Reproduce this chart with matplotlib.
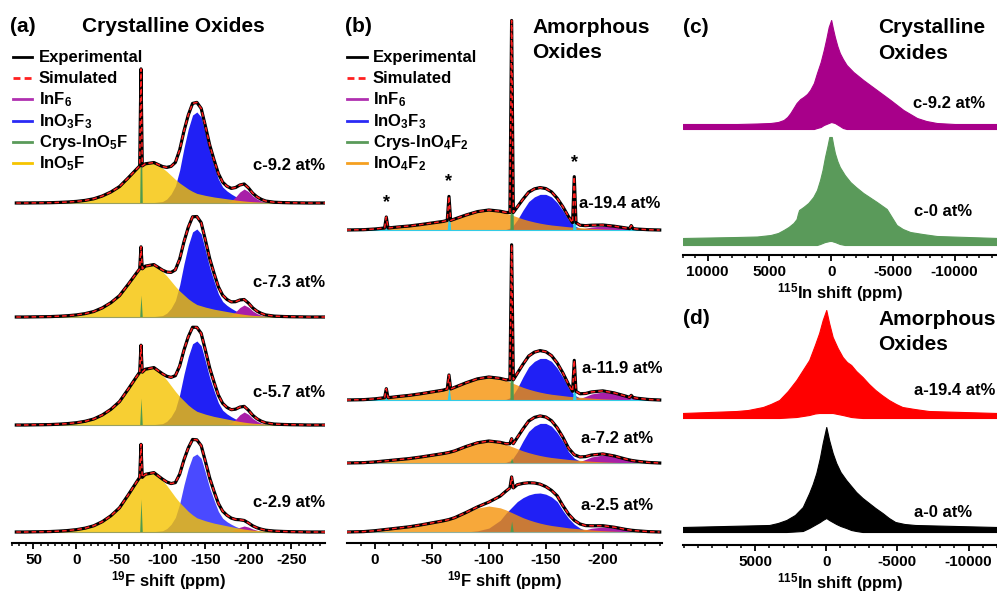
import numpy as np
import matplotlib
matplotlib.use('Agg')
import matplotlib.pyplot as plt
from matplotlib.lines import Line2D

plt.rcParams['font.family'] = ['Liberation Sans', 'DejaVu Sans']
plt.rcParams['font.weight'] = 'bold'
plt.rcParams['mathtext.fontset'] = 'custom'
plt.rcParams['mathtext.rm'] = 'Liberation Sans:bold'
plt.rcParams['mathtext.it'] = 'Liberation Sans:bold'
plt.rcParams['mathtext.bf'] = 'Liberation Sans:bold'
plt.rcParams['axes.unicode_minus'] = False

# ---- (a) 19F, crystalline oxides: component shapes (peak = 1) ----
A_PPM = [70, 60, 50, 40, 30, 20, 10, 0, -10, -20, -30, -40, -50, -60, -70, -75, -80, -90, -100,
         -105, -110, -115, -120, -125, -130, -135, -140, -145, -150, -155, -160, -165, -170,
         -175, -180, -185, -190, -195, -200, -205, -210, -215, -220,
         -230, -240, -250, -260, -270, -280, -290]
A_INO5F = [0, 0, .003, .005, .008, .015, .025, .04, .065, .105, .175, .275, .41, .625, .85, .925, .975, 1.0, .875,
           .79, .69, .59, .5, .425, .35, .29, .24, .215, .19, .17, .15, .135, .12,
           .105, .09, .075, .062, .05, .04, .032, .027, .022, .018,
           .012, .008, .005, .003, 0, 0, 0]
A_INO3F3 = [0, 0, 0, 0, 0, 0, 0, 0, 0, 0, 0, 0, 0, 0, 0, .001, .002, .005, .016,
            .044, .099, .187, .363, .604, .813, .967, 1.0, .945, .758, .56, .407, .264, .176,
            .132, .099, .071, .049, .033, .022, .016, .011, .008, .005,
            .003, .001, 0, 0, 0, 0, 0]
A_INF6 = [0, 0, 0, 0, 0, 0, 0, 0, 0, 0, 0, 0, 0, 0, 0, 0, 0, 0, 0,
          0, 0, 0, 0, 0, 0, 0, 0, 0, 0, 0, 0, 0, 0,
          .036, .143, .43, .79, 1.0, .82, .5, .286, .143, .057,
          0, 0, 0, 0, 0, 0, 0]
A_CRYS_PPM = -75
A_LABELS = ['c-9.2 at%', 'c-7.3 at%', 'c-5.7 at%', 'c-2.9 at%']
A_H_INO5F = [40, 52, 57, 59]
A_H_INO3F3 = [91, 88, 84, 78]
A_H_INF6 = [14, 12, 13, 6]
A_H_CRYS = [97, 22, 27, 33]

# ---- (b) 19F, amorphous oxides ----
B_PPM = [25, 20, 10, 0, -10, -20, -30, -40, -50, -60, -65, -70, -80, -90, -100, -110,
         -115, -120, -125, -130, -135, -140, -145, -150, -155, -160, -165, -170, -175, -180, -185, -190,
         -200, -210, -220, -225, -230, -240, -250]
B_INO4F2 = [0, .005, .015, .05, .1, .15, .2, .27, .35, .43, .48, .55, .75, .92, 1.0, .93,
            .85, .75, .65, .55, .47, .4, .34, .29, .25, .22, .19, .16, .14, .12, .1, .08,
            .05, .03, .015, .011, .008, .003, 0]
B_INO3F3 = [0, 0, 0, 0, 0, 0, 0, 0, 0, 0, 0, 0, 0, 0, 0, .005,
            .015, .07, .28, .55, .79, .92, .99, .99, .92, .76, .54, .28, .12, .045, .015, .005,
            0, 0, 0, 0, 0, 0, 0]
B_INO3F3_BROAD = [0, 0, 0, 0, 0, 0, 0, 0, 0, 0, 0, 0, 0, .03, .1, .3,
                  .48, .63, .78, .88, .95, .99, 1.0, .97, .9, .78, .55, .35, .2, .1, .04, .01,
                  0, 0, 0, 0, 0, 0, 0]
B_INF6 = [0, 0, 0, 0, 0, 0, 0, 0, 0, 0, 0, 0, 0, 0, 0, 0,
          0, 0, 0, 0, 0, 0, 0, 0, 0, 0, 0, 0, .05, .2, .45, .75,
          1.0, .8, .45, .3, .2, .06, 0]
B_CRYS_PPM = -120
B_SSB_PPM = [-10, -65, -175, -225]
B_LABELS = ['a-19.4 at%', 'a-11.9 at%', 'a-7.2 at%', 'a-2.5 at%']
B_H_INO4F2 = [20, 23, 22, 26]
B_H_INO3F3 = [36, 42, 40, 39]
B_H_INF6 = [4, 8, 8, 5]
B_H_CRYS = [192, 135, 5, 11]
B_H_SSB = [[11, 24, 46, 3], [9, 14, 31, 2], [0, 0, 0, 0], [0, 0, 0, 0]]

# ---- (c) 115In, crystalline: envelope of the sideband manifold ----
C_C92_PPM = [12000, 7600, 6000, 4900, 4300, 3850, 3550, 3300, 3050, 2800, 2500, 2250, 1950, 1700,
             1400, 1150, 850, 600, 400, 200, 0, -150, -300, -500, -700, -950, -1250, -1800,
             -2600, -3700, -4800, -5850, -6950, -7700, -8550, -10000, -13500]
C_C92_TOP = [3, 3, 3.5, 4, 5, 7, 10, 14, 19, 24, 28, 30, 33, 37,
             44, 54, 65, 77, 88, 100, 107, 98, 90, 81, 74, 68, 62, 55,
             47, 37, 27, 17, 9, 6, 4, 3, 3]
C_C92_BOT = [-2, -2, -2, -2, -2, -2, -2, -2, -2, -2, -2, -2, -2, -2,
             -2, -1, 0, 2, 3, 4, 5, 4.5, 4, 2.5, 1, -1, -2, -2,
             -2, -2, -2, -2, -2, -2, -2, -2, -2]
C_C0_PPM = [12000, 7600, 6000, 4900, 4300, 3850, 3450, 3050, 2800, 2700, 2600, 2250, 1850, 1450,
            1150, 900, 700, 500, 300, 150, -50, -150, -300, -500, -700, -1100, -1550, -2000,
            -2600, -3700, -4500, -4700, -5000, -5300, -5800, -6400, -7400, -8550, -13500]
C_C0_TOP = [4, 5, 5.5, 7, 9, 12, 15, 19, 23, 28, 32, 35, 39, 45,
            52, 62, 72, 85, 96, 105, 105, 98, 89, 81, 75, 67, 60, 55,
            49, 40, 33, 29, 23, 17, 13, 10, 8, 6, 4]
C_C0_BOT = [-3, -3, -3, -3, -3, -3, -3, -3, -3, -3, -3, -3, -3, -3,
            -3, -2, -1, 0, 0.5, 1, 1, 0.5, 0, -1, -2, -3, -3, -3,
            -3, -3, -3, -3, -3, -3, -3, -3, -3, -3, -3]

# ---- (d) 115In, amorphous ----
D_A194_PPM = [10100, 6300, 5500, 4450, 3900, 3300, 2700, 2100, 1650, 1200, 800, 500, 250, 0,
              -200, -450, -800, -1150, -1450, -1750, -2100, -2550, -3000, -3450, -3900,
              -4400, -4900, -5350, -6200, -7200, -12000]
D_A194_TOP = [2, 4, 5, 8, 11, 15, 24, 35, 45, 55, 70, 82, 95, 105,
              92, 78, 67, 58, 53, 50, 44, 38, 31, 25, 20,
              15, 11, 8, 6, 4, 2]
D_A194_BOT = [-3, -3, -3, -3, -3, -3, -2.5, -2, -1, 0, 1.5, 2, 2, 2,
              2, 2, 1, 0, -1, -2, -2.5, -3, -3, -3, -3,
              -3, -3, -3, -3, -3, -3]
D_A0_PPM = [10100, 4000, 3400, 2800, 2200, 1650, 1200, 950, 700, 450, 250, 0, -200, -450, -700,
            -1000, -1400, -1750, -2100, -2550, -3000, -3450, -3950, -4400, -4850, -5500,
            -6250, -12000]
D_A0_TOP = [3, 5, 7, 10, 15, 23, 37, 46, 57, 72, 87, 103, 90, 77, 67,
            58, 50, 44, 38, 32, 27, 22, 17, 12, 8, 6,
            5, 3]
D_A0_BOT = [-2, -2, -2, -2, -1.5, -1, 2, 4, 6, 8, 10, 12, 10, 8, 6,
            4, 2, 0, -1, -2, -2, -2, -2, -2, -2, -2,
            -2, -2]

BLUE = '#2020f5'
YELLOW = '#f6c400'
ORANGE = '#f59208'
MAGENTA = '#a81fa8'
GREEN = '#4f9a4f'
CYAN = '#33cce6'

W, H = 997, 593
fig = plt.figure(figsize=(W / 100, H / 100), dpi=100)


def axes_px(x0, x1, y0, y1):
    return fig.add_axes([x0 / W, 1 - y1 / H, (x1 - x0) / W, (y1 - y0) / H])


def ftext(x, y, s, size=12, ha='left'):
    fig.text(x / W, 1 - y / H, s, fontsize=size, ha=ha, va='baseline', fontweight='bold')


def fline(x0, x1, y, color, ls='-'):
    fig.add_artist(Line2D([x0 / W, x1 / W], [1 - y / H, 1 - y / H], color=color, lw=2, ls=ls))


def style(ax, xlim, ylim, majors, minors, xlabel):
    ax.set_xlim(*xlim)
    ax.set_ylim(*ylim)
    for s in ['left', 'right', 'top']:
        ax.spines[s].set_visible(False)
    ax.spines['bottom'].set_linewidth(1.5)
    ax.set_yticks([])
    ax.set_xticks(majors)
    ax.set_xticks(minors, minor=True)
    ax.tick_params(axis='x', which='major', direction='out', length=4, width=1.3, labelsize=11, pad=3)
    ax.tick_params(axis='x', which='minor', direction='out', length=2.5, width=1.1)
    ax.set_xlabel(xlabel, fontsize=12, fontweight='bold', labelpad=2)
    ax.patch.set_alpha(0)


def spiked(x, y, pos, amp, w):
    xs, ys = [], []
    for xi, yi in zip(x, y):
        if xi in pos and amp[pos.index(xi)] > 0:
            h = amp[pos.index(xi)]
            xs += [xi + w, xi, xi - w]
            ys += [yi, yi + h, yi]
        else:
            xs.append(xi)
            ys.append(yi)
    return np.array(xs, float), np.array(ys, float)


def spike_fill(ax, p, h, b, w, color):
    if h > 0:
        ax.fill_between([p + w, p, p - w], b, [b, b + h, b], color=color, lw=0)


# ---------------- panel (a) ----------------
axa = axes_px(12, 325, 0, 543)
A_BASE = [340, 226, 118, 11]
xa = np.array(A_PPM, float)
for i in range(4):
    b = A_BASE[i]
    yel = np.array(A_INO5F) * A_H_INO5F[i]
    blu = np.array(A_INO3F3) * A_H_INO3F3[i]
    mag = np.array(A_INF6) * A_H_INF6[i]
    axa.fill_between(xa, b, b + blu, color=BLUE if i < 3 else '#4a4aff', lw=0)
    axa.fill_between(xa, b, b + mag, color=MAGENTA, lw=0)
    axa.fill_between(xa, b, b + yel, color=YELLOW, alpha=0.8, lw=0)
    spike_fill(axa, A_CRYS_PPM, A_H_CRYS[i], b, 1.5, GREEN)
    axa.plot(xa, np.full_like(xa, b), color='#9aa060', lw=0.8)
    ex, ey = spiked(A_PPM, yel + blu + mag, [A_CRYS_PPM], [A_H_CRYS[i]], 1.5)
    axa.plot(ex, b + ey, color='black', lw=2.3)
    axa.plot(ex, b + ey, color='#ff2020', lw=1.1, ls=(0, (3, 2)))
style(axa, (74, -289), (0, 543), np.arange(50, -251, -50),
      np.arange(50 + 50 / 6 * 3, -289, -50 / 6), r'$^{19}$F shift (ppm)')

# ---------------- panel (b) ----------------
axb = axes_px(347, 662, 0, 543)
B_BASE = [313, 143, 80, 11]
xb = np.array(B_PPM, float)
blue_shapes = [B_INO3F3, B_INO3F3, B_INO3F3, B_INO3F3_BROAD]
for i in range(4):
    b = B_BASE[i]
    ora = np.array(B_INO4F2) * B_H_INO4F2[i]
    blu = np.array(blue_shapes[i]) * B_H_INO3F3[i]
    mag = np.array(B_INF6) * B_H_INF6[i]
    axb.fill_between(xb, b, b + blu, color=BLUE, lw=0)
    axb.fill_between(xb, b, b + mag, color=MAGENTA, lw=0)
    axb.fill_between(xb, b, b + ora, color=ORANGE, alpha=0.8, lw=0)
    spike_fill(axb, B_CRYS_PPM, B_H_CRYS[i], b, 1.5, GREEN)
    for p, h in zip(B_SSB_PPM, B_H_SSB[i]):
        spike_fill(axb, p, h, b, 1.5, CYAN)
    axb.plot(xb, np.full_like(xb, b), color=CYAN if i < 2 else '#8fb0a0', lw=0.8)
    ex, ey = spiked(B_PPM, ora + blu + mag, [B_CRYS_PPM] + B_SSB_PPM,
                    [B_H_CRYS[i]] + B_H_SSB[i], 1.5)
    axb.plot(ex, b + ey, color='black', lw=2.3)
    axb.plot(ex, b + ey, color='#ff2020', lw=1.1, ls=(0, (3, 2)))
# asterisks above spinning sidebands of the top trace
tot0 = (np.array(B_INO4F2) * B_H_INO4F2[0] + np.array(B_INO3F3) * B_H_INO3F3[0]
        + np.array(B_INF6) * B_H_INF6[0])
for p, h in zip(B_SSB_PPM[:3], B_H_SSB[0][:3]):
    yb = tot0[B_PPM.index(p)] + h + B_BASE[0]
    axb.text(p, yb + 6, '*', ha='center', va='bottom', fontsize=13, fontweight='bold')
style(axb, (24.5, -252), (0, 543), np.arange(0, -201, -50),
      np.arange(12.5, -251, -12.5), r'$^{19}$F shift (ppm)')

# ---------------- panel (c) ----------------
axc = axes_px(683, 997, 0, 255)
axc.fill_between(C_C92_PPM, 128 + np.array(C_C92_BOT), 128 + np.array(C_C92_TOP),
                 color='#a8008a', lw=0.8)
axc.fill_between(C_C0_PPM, 13 + np.array(C_C0_BOT), 13 + np.array(C_C0_TOP),
                 color='#5a9a5a', lw=0.8)
style(axc, (12000, -13430), (0, 255), [10000, 5000, 0, -5000, -10000],
      np.arange(12000, -13500, -1000), r'$^{115}$In shift (ppm)')

# ---------------- panel (d) ----------------
axd = axes_px(683, 997, 300, 545)
axd.fill_between(D_A194_PPM, 130 + np.array(D_A194_BOT), 130 + np.array(D_A194_TOP),
                 color='#ff0000', lw=0.8)
axd.fill_between(D_A0_PPM, 15 + np.array(D_A0_BOT), 15 + np.array(D_A0_TOP),
                 color='black', lw=0.8)
style(axd, (10070, -11900), (0, 245), [5000, 0, -5000, -10000],
      np.arange(10000, -12500, -1000), r'$^{115}$In shift (ppm)')

# ---------------- texts ----------------
ftext(10, 32, '(a)', 15)
ftext(82, 32, 'Crystalline Oxides', 15)
ftext(345, 32, '(b)', 15)
ftext(532, 33, 'Amorphous', 15)
ftext(532, 58, 'Oxides', 15)
ftext(683, 33, '(c)', 15)
ftext(878, 33, 'Crystalline', 15)
ftext(878, 59, 'Oxides', 15)
ftext(683, 324, '(d)', 15)
ftext(878, 325, 'Amorphous', 15)
ftext(878, 350, 'Oxides', 15)

rows = [62, 83, 104, 126, 147, 168]
leg_a = ['Experimental', 'Simulated', 'InF$_6$', 'InO$_3$F$_3$', 'Crys-InO$_5$F', 'InO$_5$F']
leg_b = ['Experimental', 'Simulated', 'InF$_6$', 'InO$_3$F$_3$', 'Crys-InO$_4$F$_2$', 'InO$_4$F$_2$']
col_a = ['black', '#ff2020', '#b030b0', '#2a2af5', '#5a9a5a', '#f6c400']
col_b = ['black', '#ff2020', '#b030b0', '#2a2af5', '#5a9a5a', '#f5a020']
for k in range(6):
    ls = (0, (2.5, 1.5)) if k == 1 else '-'
    fline(13, 32, rows[k] - 5.5, col_a[k], ls)
    ftext(39, rows[k], leg_a[k], 12)
    fline(347, 367, rows[k] - 5.5, col_b[k], ls)
    ftext(373, rows[k], leg_b[k], 12)

for s, y in zip(A_LABELS, [170, 287, 397, 507]):
    ftext(325, y, s, 12, ha='right')
for s, x, y in zip(B_LABELS, [660, 662, 653, 653], [208, 373, 443, 510]):
    ftext(x, y, s, 12, ha='right')
ftext(985, 108, 'c-9.2 at%', 12, ha='right')
ftext(972, 216, 'c-0 at%', 12, ha='right')
ftext(995, 395, 'a-19.4 at%', 12, ha='right')
ftext(972, 517, 'a-0 at%', 12, ha='right')

fig.savefig('out.png', dpi=100)
